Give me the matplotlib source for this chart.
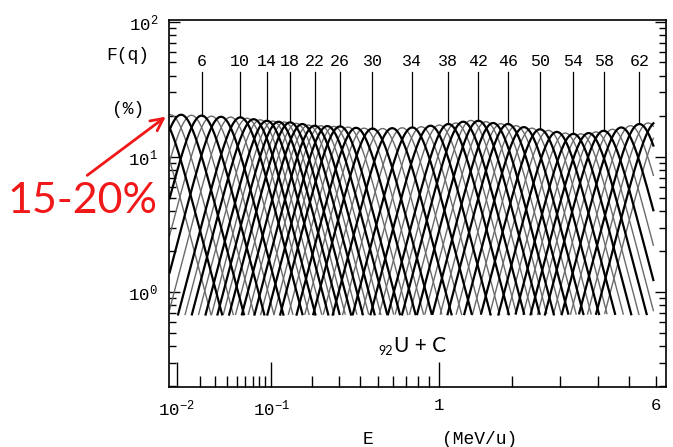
import numpy as np
import matplotlib.pyplot as plt

plt.rcParams['font.family'] = 'Liberation Mono'
plt.rcParams['mathtext.fontset'] = 'custom'
plt.rcParams['mathtext.rm'] = 'Liberation Mono'
plt.rcParams['mathtext.it'] = 'Liberation Mono'
plt.rcParams['mathtext.default'] = 'rm'

# charge states q = 1..65 of U ions after a carbon stripper
charge = np.arange(1, 66)
# energy (MeV/u) where each charge state is most abundant
peak_energy = [0.0036, 0.00547, 0.0081, 0.01157, 0.01588, 0.0212, 0.02744, 0.03483, 0.04362, 0.0541,
               0.0625, 0.07144, 0.08131, 0.0926, 0.1034, 0.1147, 0.1270, 0.1403, 0.1555, 0.1720,
               0.1897, 0.2087, 0.2293, 0.2527, 0.2778, 0.3036, 0.3389, 0.3778, 0.4200, 0.4671,
               0.5294, 0.5943, 0.6678, 0.7493, 0.8283, 0.9149, 1.004, 1.1017, 1.188, 1.277,
               1.376, 1.478, 1.585, 1.695, 1.817, 1.937, 2.081, 2.223, 2.380, 2.546,
               2.727, 2.918, 3.120, 3.323, 3.523, 3.733, 3.941, 4.171, 4.445, 4.733,
               5.049, 5.367, 5.698, 6.045, 6.407]
# maximum fraction F(q) in %
peak_frac = [19.0, 20.0, 20.5, 20.5, 20.3, 20.2, 20.0, 19.8, 19.7, 19.6,
             19.3, 19.0, 18.8, 18.5, 18.4, 18.2, 18.1, 18.0, 17.7, 17.5,
             17.2, 17.0, 17.0, 16.9, 16.8, 16.8, 16.6, 16.4, 16.3, 16.2,
             16.2, 16.3, 16.4, 16.5, 16.7, 17.0, 17.2, 17.5, 17.8, 18.2,
             18.6, 18.5, 18.2, 17.8, 17.6, 17.5, 17.0, 16.6, 16.3, 16.0,
             15.7, 15.3, 15.0, 14.8, 14.8, 15.0, 15.3, 15.6, 16.0, 16.5,
             17.0, 17.5, 17.8, 18.2, 18.5]
width = 0.040      # curve width in E^(1/4)
f_min = 0.68       # fractions below this are not drawn
e_range = (0.0079, 5.9)

label_q = [6, 10, 14, 18, 22, 26, 30, 34, 38, 42, 46, 50, 54, 58, 62]

W, H = 673, 447
fig = plt.figure(figsize=(W / 100, H / 100), dpi=100)
ax = fig.add_axes([169 / W, 1 - 387 / H, (666 - 169) / W, (387 - 20) / H])

fwd = lambda e: np.power(np.clip(e, 1e-12, None), 0.25)
inv = lambda u: np.power(u, 4)
ax.set_xscale('function', functions=(fwd, inv))
ax.set_yscale('log')
ax.set_xlim(0.00773, 6.415)
ax.set_ylim(0.198, 103)

e = np.geomspace(*e_range, 2500)
u = fwd(e)
for q, ep, fp in zip(charge, peak_energy, peak_frac):
    f = fp / np.cosh((u - fwd(ep)) / width)
    f[f < f_min] = np.nan
    if q % 2 == 0:
        ax.plot(e, f, color='black', lw=1.6, zorder=3)
    else:
        ax.plot(e, f, color='#6a6a6a', lw=1.0, zorder=2)

# charge state markers above the envelope
for q in label_q:
    ep = peak_energy[q - 1]
    ax.plot([ep, ep], [peak_frac[q - 1], 42.6], color='black', lw=0.9)
    ax.text(ep, 50.5, str(q), ha='center', va='center', fontsize=12)

# axes ticks
ax.set_xticks([0.01, 0.1, 1, 6])
ax.set_xticklabels(['$10^{-2}$', '$10^{-1}$', '1', '6'])
ax.set_xticks([k * d for d in (0.01, 0.1) for k in range(2, 10)] + [2, 3, 4, 5], minor=True)
ax.xaxis.set_minor_formatter(plt.NullFormatter())
ax.tick_params(axis='x', which='major', direction='in', length=18, width=1, pad=8, labelsize=12.5)
ax.tick_params(axis='x', which='minor', direction='in', length=8, width=1)
ax.xaxis.get_major_ticks()[3].tick1line.set_markersize(8)

ax.set_yticks([1, 10, 100])
ax.set_yticklabels(['$10^{0}$', '$10^{1}$', '$10^{2}$'])
ax.set_yticks([k * d for d in (0.1, 1, 10) for k in range(2, 10)], minor=True)
ax.yaxis.set_minor_formatter(plt.NullFormatter())
ax.tick_params(axis='y', which='major', direction='in', length=8, width=1, pad=8,
               labelsize=12.5, right=True)
ax.tick_params(axis='y', which='minor', direction='in', length=5, width=1, right=True)
for s in ax.spines.values():
    s.set_linewidth(1.2)

# axis titles
fig.text(128 / W, 1 - 55 / H, 'F(q)', ha='center', va='center', fontsize=13)
fig.text(128 / W, 1 - 110 / H, '(%)', ha='center', va='center', fontsize=13)
fig.text(368 / W, 1 - 440 / H, 'E', ha='center', va='center', fontsize=13)
fig.text(480 / W, 1 - 440 / H, '(MeV/u)', ha='center', va='center', fontsize=13)

# reaction label
fig.text(393 / W, 1 - 355 / H, '92', ha='right', va='baseline', fontsize=9, family='Lato')
fig.text(394 / W, 1 - 352 / H, 'U + C', ha='left', va='baseline', fontsize=15, family='Lato')

# annotation
fig.text(82 / W, 1 - 201 / H, '15-20%', ha='center', va='center', fontsize=31,
         color='#f01818', family='Lato')
ax.annotate('', xy=(168 / W, 1 - 115 / H), xytext=(85 / W, 1 - 177 / H),
            xycoords='figure fraction', textcoords='figure fraction',
            arrowprops=dict(arrowstyle='->', color='#f01818', lw=2, mutation_scale=22))

fig.savefig('out.png', dpi=100)
